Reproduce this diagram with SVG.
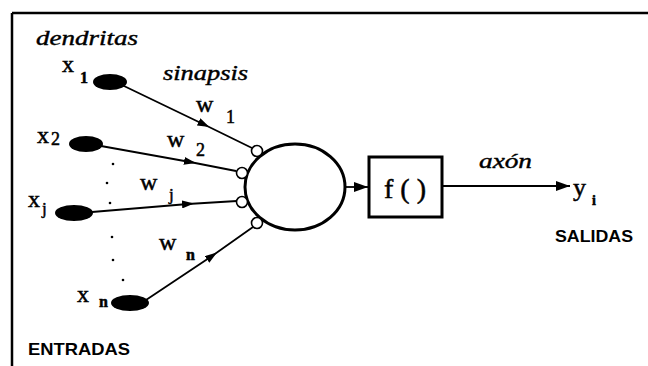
<svg xmlns="http://www.w3.org/2000/svg" width="648" height="366" viewBox="0 0 648 366">
<defs>
<style>
.serif{font-family:"Liberation Serif","Times New Roman",serif;fill:#000;stroke:#000;stroke-width:0.5}
.it{font-style:italic;stroke-width:0.4}
.sans{font-family:"Liberation Sans",Arial,sans-serif;font-weight:bold;fill:#000}
.wire{stroke:#000;stroke-width:1.8;fill:none}
.syn{fill:#fff;stroke:#000;stroke-width:1.6}
.den{fill:#000}
</style>
<marker id="ah" viewBox="0 0 12 8" refX="6" refY="4" markerWidth="12" markerHeight="8" markerUnits="userSpaceOnUse" orient="auto">
<path d="M0,0 L12,4 L0,8 Z" fill="#000"/>
</marker>
<marker id="ahEnd" viewBox="0 0 14 10" refX="14" refY="5" markerWidth="14" markerHeight="10" markerUnits="userSpaceOnUse" orient="auto">
<path d="M0,0 L14,5 L0,10 Z" fill="#000"/>
</marker>
</defs>
<rect width="648" height="366" fill="#fff"/>
<g id="frame" stroke="#000" stroke-width="2.5">
<line x1="12" y1="13" x2="648" y2="13"/>
<line x1="12" y1="13" x2="12" y2="366"/>
</g>
<text class="serif it" x="36" y="45" font-size="21" textLength="102" lengthAdjust="spacingAndGlyphs">dendritas</text>
<text class="serif it" x="163" y="80" font-size="20" textLength="85" lengthAdjust="spacingAndGlyphs">sinapsis</text>
<text class="sans" x="28" y="355" font-size="16.5" textLength="102" lengthAdjust="spacingAndGlyphs">ENTRADAS</text>
<text class="sans" x="555" y="242" font-size="16.5" textLength="78" lengthAdjust="spacingAndGlyphs">SALIDAS</text>
<g id="connectors">
<path class="wire" d="M124,86 L204,124.5 L252,148" marker-mid="url(#ah)"/>
<path class="wire" d="M101,146 L190,162 L236,171" marker-mid="url(#ah)"/>
<path class="wire" d="M92,212 L188,204 L237,201" marker-mid="url(#ah)"/>
<path class="wire" d="M146,300 L212,256 L253,227" marker-mid="url(#ah)"/>
<line class="wire" x1="345" y1="187" x2="368" y2="187" stroke-width="2" marker-end="url(#ahEnd)"/>
<line class="wire" x1="443" y1="186" x2="570" y2="186" stroke-width="2" marker-end="url(#ahEnd)"/>
</g>
<g id="x1"><ellipse class="den" cx="110" cy="82" rx="17" ry="8"/><text class="serif" x="62" y="72" font-size="24">x</text><text class="serif" x="80" y="83" font-size="16" font-weight="bold">1</text></g>
<g id="x2"><ellipse class="den" cx="86" cy="144" rx="17" ry="8"/><text class="serif" x="37" y="143" font-size="24">x</text><text class="serif" x="51" y="145" font-size="18">2</text></g>
<g id="xj"><ellipse class="den" cx="74" cy="213" rx="19" ry="8"/><text class="serif" x="28" y="207" font-size="24">x</text><text class="serif" x="42" y="214" font-size="17">j</text></g>
<g id="xn"><ellipse class="den" cx="130" cy="303" rx="19" ry="8"/><text class="serif" x="77" y="302" font-size="24">x</text><text class="serif" x="99" y="307" font-size="16" font-weight="bold">n</text></g>
<g id="weights">
<text class="serif" x="196" y="112" font-size="24">w</text><text class="serif" x="226" y="123" font-size="18">1</text>
<text class="serif" x="167" y="147" font-size="24">w</text><text class="serif" x="196" y="156" font-size="18">2</text>
<text class="serif" x="140" y="190" font-size="24">w</text><text class="serif" x="169" y="200" font-size="17">j</text>
<text class="serif" x="159" y="250" font-size="24">w</text><text class="serif" x="186" y="260" font-size="16" font-weight="bold">n</text>
</g>
<g id="ellipsis" fill="#000">
<circle cx="113" cy="164" r="1.3"/><circle cx="107" cy="183" r="1.3"/><circle cx="110" cy="203" r="1.3"/><circle cx="112" cy="237" r="1.3"/><circle cx="113" cy="260" r="1.3"/><circle cx="123" cy="280" r="1.3"/>
</g>
<g id="neuron">
<ellipse cx="295" cy="187" rx="50" ry="43" fill="#fff" stroke="#000" stroke-width="3"/>
<circle class="syn" cx="257" cy="151" r="5.5"/>
<circle class="syn" cx="242" cy="173" r="5.5"/>
<circle class="syn" cx="242" cy="202" r="5.5"/>
<circle class="syn" cx="257" cy="223" r="5.5"/>
</g>
<g id="f">
<rect x="369" y="157" width="73" height="60" fill="#fff" stroke="#000" stroke-width="3"/>
<text class="serif" x="405" y="198" font-size="28" text-anchor="middle">f ( )</text>
</g>
<text class="serif it" x="479" y="168" font-size="21" textLength="53" lengthAdjust="spacingAndGlyphs">axón</text>
<g id="y"><text class="serif" x="573" y="196" font-size="26">y</text><text class="serif" x="592" y="205" font-size="14" font-weight="bold">i</text></g>
</svg>
